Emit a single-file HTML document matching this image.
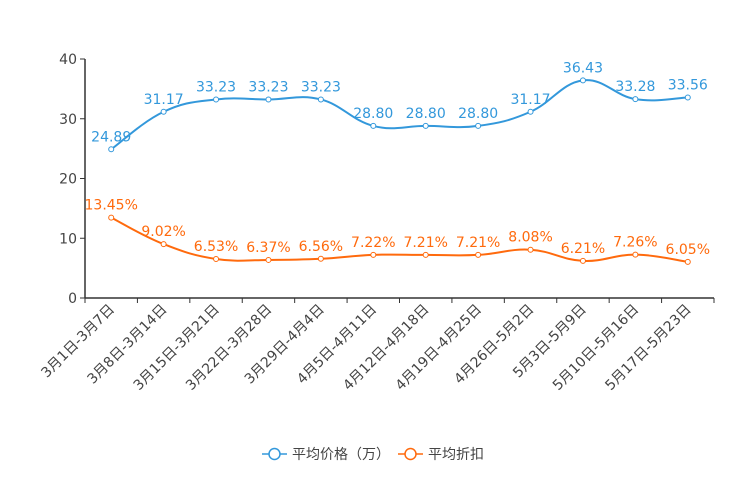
<!DOCTYPE html>
<html><head><meta charset="utf-8"><style>
body{margin:0;background:#fff;}
svg{display:block;font-family:"DejaVu Sans","Noto Sans CJK SC",sans-serif;}
</style></head><body>
<svg id="c" width="744" height="496"></svg>
<script>
const categories=["3月1日-3月7日","3月8日-3月14日","3月15日-3月21日","3月22日-3月28日","3月29日-4月4日","4月5日-4月11日","4月12日-4月18日","4月19日-4月25日","4月26日-5月2日","5月3日-5月9日","5月10日-5月16日","5月17日-5月23日"];
const priceValues=[24.89,31.17,33.23,33.23,33.23,28.80,28.80,28.80,31.17,36.43,33.28,33.56];
const discountValues=[13.45,9.02,6.53,6.37,6.56,7.22,7.21,7.21,8.08,6.21,7.26,6.05];
const yTicks=[0,10,20,30,40];
const NS="http://www.w3.org/2000/svg";
const svg=document.getElementById('c');
const L=85,R=714,T=59,B=298,yMax=40;
const bw=(R-L)/categories.length;
const xS=i=>L+bw*(i+0.5);
const yS=v=>B-(v/yMax)*(B-T);
function mk(tag,attrs,parent){const e=document.createElementNS(NS,tag);for(const k in attrs)e.setAttribute(k,attrs[k]);(parent||svg).appendChild(e);return e;}
const ya=mk('g',{});


mk('line',{x1:L,y1:T,x2:L,y2:B,stroke:'#333','stroke-width':1.5},ya);
yTicks.forEach(t=>{
 mk('line',{x1:L-5,y1:yS(t),x2:L,y2:yS(t),stroke:'#333'},ya);
 const tx=mk('text',{x:L-8,y:yS(t)+5,'text-anchor':'end','font-size':14,fill:'#444'},ya);
 tx.textContent=t;
 
 
});
const xa=mk('g',{});


mk('line',{x1:L,y1:B,x2:R,y2:B,stroke:'#333','stroke-width':1.5},xa);
for(let i=0;i<=categories.length;i++){mk('line',{x1:L+bw*i,y1:B,x2:L+bw*i,y2:B+5,stroke:'#333'},xa);}
categories.forEach((c,i)=>{
 const x=xS(i)+4,y=B+12;
 const tx=mk('text',{x:x,y:y,'text-anchor':'end','font-size':14,fill:'#444',transform:`rotate(-45 ${x} ${y})`},xa);
 tx.textContent=c;
 
 
});
function path(vals){
 const p=vals.map((v,i)=>[xS(i),yS(v)]);
 let d=`M${p[0][0]},${p[0][1]}`;const s=0.2;
 for(let i=0;i<p.length-1;i++){
  const p0=p[Math.max(0,i-1)],p1=p[i],p2=p[i+1],p3=p[Math.min(p.length-1,i+2)];
  d+=` C${p1[0]+(p2[0]-p0[0])*s},${p1[1]+(p2[1]-p0[1])*s} ${p2[0]-(p3[0]-p1[0])*s},${p2[1]-(p3[1]-p1[1])*s} ${p2[0]},${p2[1]}`;
 }
 return d;
}
function series(vals,color,name){
 const g=mk('g',{});
 
 
 mk('path',{d:path(vals),fill:'none',stroke:color,'stroke-width':2},g);
 vals.forEach((v,i)=>{
  const c=mk('circle',{cx:xS(i),cy:yS(v),r:2.5,fill:'#fff',stroke:color,'stroke-width':1},g);
  
  
  const t=mk('text',{x:xS(i),y:yS(v)-8,'text-anchor':'middle','font-size':14,fill:color},g);
  t.textContent=name==='discount-series'?v.toFixed(2)+'%':v.toFixed(2);
  
  
 });
}
series(priceValues,'#3398db','price-series');
series(discountValues,'#ff6a0d','discount-series');
function leg(x,color,label,name){
 const g=mk('g',{});
 
 
 mk('line',{x1:x,y1:454,x2:x+25,y2:454,stroke:color,'stroke-width':1.5},g);
 mk('circle',{cx:x+12.5,cy:454,r:5.5,fill:'#fff',stroke:color,'stroke-width':1.5},g);
 const t=mk('text',{x:x+30,y:459,'font-size':14,fill:'#444'},g);
 t.textContent=label;
}
leg(262,'#3398db','平均价格（万）','legend-price');
leg(398,'#ff6a0d','平均折扣','legend-discount');
</script>
</body></html>
